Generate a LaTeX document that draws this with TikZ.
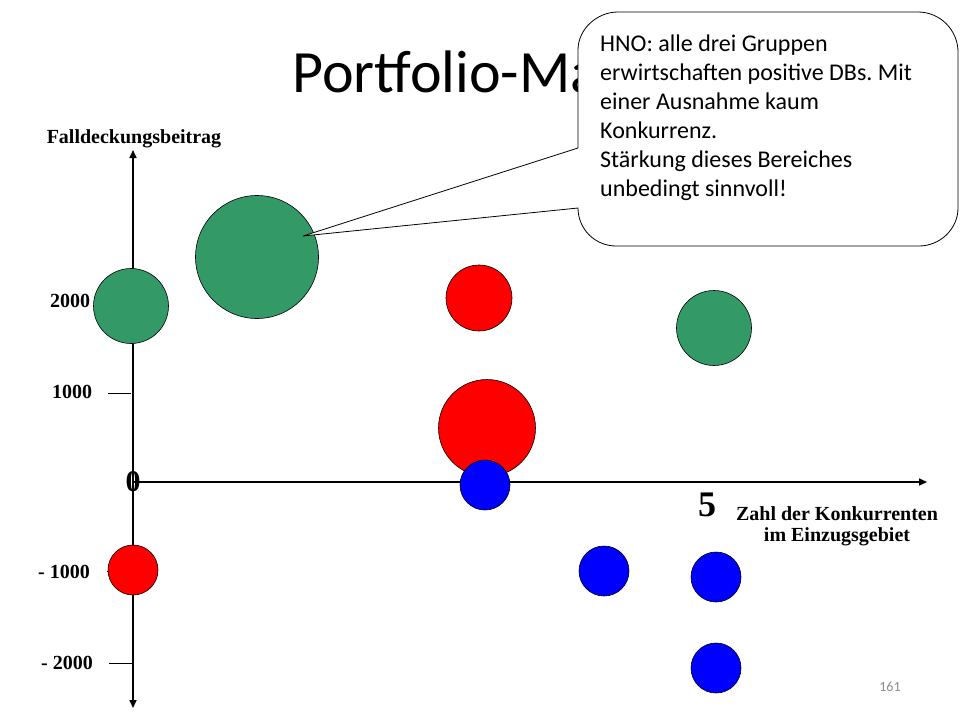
\documentclass[tikz,border=0pt]{standalone}
\usepackage{fontspec}
\setmainfont{Liberation Serif}
\newfontfamily\calibri{Carlito}
\usetikzlibrary{arrows.meta}
\definecolor{bubgreen}{RGB}{51,153,102}
\definecolor{bubred}{RGB}{255,0,0}
\definecolor{bubblue}{RGB}{0,0,255}
\definecolor{pagegray}{RGB}{140,140,140}
\begin{document}
\frenchspacing
\begin{tikzpicture}[x=1pt,y=-1pt,
  bubble/.style={circle,draw=black,line width=0.6pt,inner sep=0pt,minimum size=#1},
  axislabel/.style={font=\fontsize{20}{22}\selectfont\bfseries,inner sep=0pt,anchor=base},
  axisline/.style={line width=1.6pt},
  tickline/.style={line width=0.9pt},
  callout/.style={draw=black,fill=white,line width=0.8pt,line join=round}]
\useasboundingbox (0,0) rectangle (960,720);
\fill[white] (0,0) rectangle (960,720);

% title (partly covered by the callout)
\node[font=\calibri\fontsize{60}{70}\selectfont,anchor=base west,inner sep=0pt] (title) at (292,92) {Portfolio-Ma};

% axes
\coordinate (ytop) at (133,150);
\coordinate (ybot) at (133,708);
\coordinate (orig) at (133,482);
\coordinate (xend) at (927,482);
\draw[axisline,{Triangle[length=8pt,width=7pt]}-{Triangle[length=8pt,width=7pt]}] (ybot) -- (ytop);
\draw[axisline,-{Triangle[length=8pt,width=7pt]}] (orig) -- (xend);

% ticks
\coordinate (t1a) at (108,393); \coordinate (t1b) at (131,393);
\coordinate (t3a) at (107,571); \coordinate (t3b) at (132,571);
\coordinate (t4a) at (109,663); \coordinate (t4b) at (132,663);
\draw[tickline] (t1a) -- (t1b);
\draw[tickline] (t3a) -- (t3b);
\draw[tickline] (t4a) -- (t4b);

% axis labels
\node[axislabel] (ylab) at (134,143) {Falldeckungsbeitrag};
\node[axislabel] (l2000) at (70,307) {2000};
\node[axislabel] (l1000) at (72,398) {1000};
\node[axislabel] (lm1000) at (64,578) {- 1000};
\node[axislabel] (lm2000) at (67,669) {- 2000};
\node[font=\fontsize{30}{32}\selectfont\bfseries,inner sep=0pt,anchor=base] (lzero) at (133,491) {0};
\node[font=\fontsize{36}{38}\selectfont\bfseries,inner sep=0pt,anchor=base] (lfive) at (707,516) {5};
\node[font=\fontsize{20}{21}\selectfont\bfseries,inner sep=0pt,align=center,anchor=north] (xlab) at (837,506.5) {Zahl der Konkurrenten\\im Einzugsgebiet};

% bubbles
\node[bubble=75pt,fill=bubgreen] (g1) at (131,306) {};
\node[bubble=123pt,fill=bubgreen] (g2) at (257,257) {};
\node[bubble=66pt,fill=bubred] (r1) at (479,298) {};
\node[bubble=75pt,fill=bubgreen] (g3) at (714,328) {};
\node[bubble=97pt,fill=bubred] (r2) at (487,428) {};
\node[bubble=50pt,fill=bubblue] (b1) at (485,485) {};
\node[bubble=50pt,fill=bubred] (r3) at (133,570) {};
\node[bubble=50pt,fill=bubblue] (b2) at (604,571) {};
\node[bubble=50pt,fill=bubblue] (b3) at (716,577) {};
\node[bubble=50pt,fill=bubblue] (b4) at (716,668) {};

% callout
\coordinate (ctip) at (303,236);
\draw[callout] (578,148) -- (578,50)
  .. controls (578,29) and (597,12) .. (618,12) -- (918,12)
  .. controls (940,12) and (958,30) .. (958,52) -- (958,208)
  .. controls (958,229) and (940,246) .. (919,246) -- (616,246)
  .. controls (595,246) and (578,229) .. (578,208)
  -- (ctip) -- cycle;
\node[font=\calibri\fontsize{24}{29}\selectfont,align=left,anchor=north west,inner sep=0pt] (ctext) at (600,35)
  {HNO: alle drei Gruppen\\erwirtschaften positive DBs. Mit\\einer Ausnahme kaum\\Konkurrenz.\\St\"arkung dieses Bereiches\\unbedingt sinnvoll!};

% page number
\node[font=\calibri\fontsize{14}{16}\selectfont,text=pagegray,inner sep=0pt] (pnum) at (890,687) {161};
\end{tikzpicture}
\end{document}
